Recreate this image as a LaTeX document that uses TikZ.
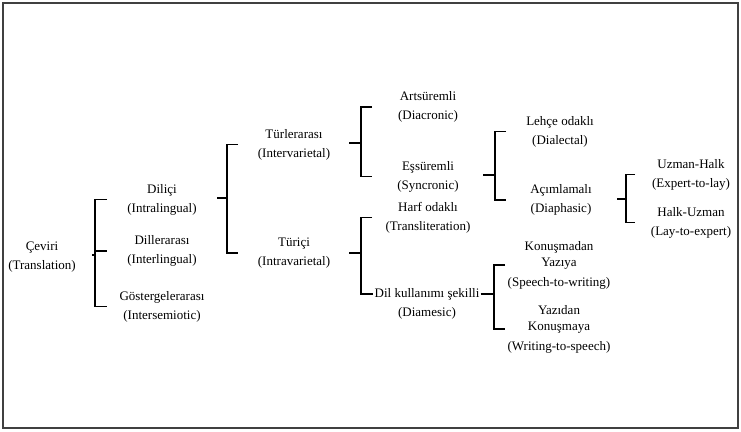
\documentclass[tikz,border=0pt]{standalone}
\usepackage{fontspec}
\setmainfont{Liberation Serif}
\usetikzlibrary{positioning}

\begin{document}
\begin{tikzpicture}[
        x=1pt, y=-1pt,
        item/.style={
            align=center, inner sep=1pt,
            font=\fontsize{13}{19}\selectfont
        },
        brace/.style={line width=1.3pt, black}
      ]

  \useasboundingbox (0,0) rectangle (741,431);
  \draw[line width=1.2pt, black!75] (3,3) rectangle (738,428);

  \node   (ceviri) [item] at (42,257.5) {Çeviri\\(Translation)};

  \node   (dilici) [item] at (162,199.5) {Diliçi\\(Intralingual)};
  \node   (diller) [item] at (162,251) {Dillerarası\\(Interlingual)};
  \node   (gosterge) [item] at (162,306.5) {Göstergelerarası\\(Intersemiotic)};

  \node   (turler) [item] at (294,144.5) {Türlerarası\\(Intervarietal)};
  \node   (turici) [item] at (294,253) {Türiçi\\(Intravarietal)};

  \node   (arts) [item] at (428,107) {Artsüremli\\(Diacronic)};
  \node   (essur) [item] at (428,176.5) {Eşsüremli\\(Syncronic)};
  \node   (harf) [item] at (428,217.5) {Harf odaklı\\(Transliteration)};
  \node   (dks) [item] at (427,294) {Dil kullanımı şekilli};
  \node   (diamesic) [item,anchor=base] at ([yshift=-19pt]dks.base) {(Diamesic)};

  \node   (lehce) [item] at (560,131.5) {Lehçe odaklı\\(Dialectal)};
  \node   (acim) [item] at (561,200) {Açımlamalı\\(Diaphasic)};
  \node   (konus) [item] at (559,265) {Konuşmadan\\[-3pt]Yazıya\\[1pt](Speech-to-writing)};
  \node   (yazidan) [item] at (559,329) {Yazıdan\\[-3pt]Konuşmaya\\[1pt](Writing-to-speech)};

  \node   (uzman) [item] at (691,174.5) {Uzman-Halk\\(Expert-to-lay)};
  \node   (halk) [item] at (691,222.5) {Halk-Uzman\\(Lay-to-expert)};

  % spines of the brackets
  \coordinate (sp1) at (95,255);
  \coordinate (sp2) at (227,198);
  \coordinate (sp3) at (361,143);
  \coordinate (sp4) at (361,253);
  \coordinate (sp5) at (495,175);
  \coordinate (sp6) at (494,294);
  \coordinate (sp7) at (626,199);

  \draw[brace] ([xshift=-3pt]sp1) -- (sp1);
  \draw[brace] (sp1 |- dilici) ++(12pt,0) -| (sp1 |- gosterge) -- ++(12pt,0);
  \draw[brace] (sp1 |- diller) -- ++(12pt,0);

  \draw[brace] ([xshift=-10pt]sp2) -- (sp2);
  \draw[brace] (sp2 |- turler) ++(11pt,0) -| (sp2 |- turici) -- ++(11pt,0);

  \draw[brace] ([xshift=-12pt]sp3) -- (sp3);
  \draw[brace] (sp3 |- arts) ++(11pt,0) -| (sp3 |- essur) -- ++(11pt,0);

  \draw[brace] ([xshift=-12pt]sp4) -- (sp4);
  \draw[brace] (sp4 |- harf) ++(11pt,0) -| (sp4 |- dks) -- (dks.west);

  \draw[brace] ([xshift=-12pt]sp5) -- (sp5);
  \draw[brace] (sp5 |- lehce) ++(11pt,0) -| (sp5 |- acim) -- ++(11pt,0);

  \draw[brace] (dks.east) -- (sp6);
  \draw[brace] (sp6 |- konus) ++(11pt,0) -| (sp6 |- yazidan) -- ++(11pt,0);

  \draw[brace] ([xshift=-9pt]sp7) -- (sp7);
  \draw[brace] (sp7 |- uzman) ++(9pt,0) -| (sp7 |- halk) -- ++(9pt,0);

\end{tikzpicture}
\end{document}
